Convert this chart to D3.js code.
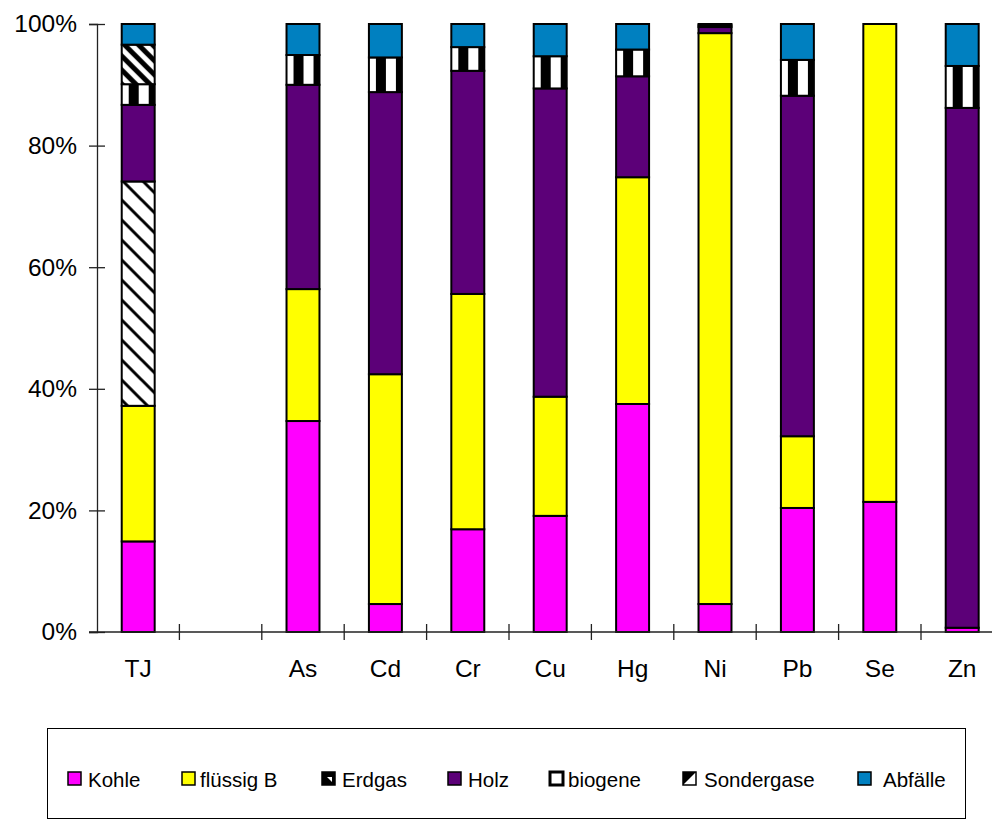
<!DOCTYPE html>
<html><head><meta charset="utf-8">
<script src="https://cdn.jsdelivr.net/npm/d3@7"></script>
<style>
html,body{margin:0;padding:0;background:#fff;}
svg{display:block;font-family:"Liberation Sans",Arial,sans-serif;}
</style></head>
<body>
<svg id="chart" width="992" height="823"></svg>
<script>
const categories = ["TJ", "", "As", "Cd", "Cr", "Cu", "Hg", "Ni", "Pb", "Se", "Zn"];
const seriesNames = ["Kohle", "flüssig B", "Erdgas", "Holz", "biogene", "Sondergase", "Abfälle"];
const kohle      = [14.9, 0, 34.7,  4.6, 16.9, 19.1, 37.5,  4.6, 20.4, 21.4,  0.7];
const fluessigB  = [22.3, 0, 21.7, 37.8, 38.7, 19.6, 37.3, 93.9, 11.8, 78.6,  0.0];
const erdgas     = [36.9, 0,  0.0,  0.0,  0.0,  0.0,  0.0,  0.0,  0.0,  0.0,  0.0];
const holz       = [12.6, 0, 33.6, 46.4, 36.7, 50.7, 16.6,  1.0, 56.0,  0.0, 85.5];
const biogene    = [ 3.4, 0,  4.9,  5.7,  3.9,  5.3,  4.4,  0.3,  5.9,  0.0,  6.9];
const sondergase = [ 6.5, 0,  0.0,  0.0,  0.0,  0.0,  0.0,  0.0,  0.0,  0.0,  0.0];
const abfaelle   = [ 3.4, 0,  5.1,  5.5,  3.8,  5.3,  4.2,  0.2,  5.9,  0.0,  6.9];
const yTicks = [0, 20, 40, 60, 80, 100];

const seriesValues = [kohle, fluessigB, erdgas, holz, biogene, sondergase, abfaelle];
const fills = ["#FF00FF", "#FFFF00", "url(#pErdgas)", "#5C0078", "url(#pBiogene)", "url(#pSonder)", "#0080C0"];

const rows = categories.map((c, i) => {
  const r = {cat: c, idx: i};
  seriesNames.forEach((s, j) => r[s] = seriesValues[j][i]);
  return r;
});

const svg = d3.select("#chart");
const defs = svg.append("defs");

const pE = defs.append("pattern").attr("id", "pErdgas").attr("patternUnits", "userSpaceOnUse")
  .attr("width", 20).attr("height", 20);
pE.append("rect").attr("width", 20).attr("height", 20).attr("fill", "#fff");
pE.append("path").attr("d", "M-5,-5L25,25M-5,15L5,25M15,-5L25,5").attr("stroke", "#000").attr("stroke-width", 3);

const pS = defs.append("pattern").attr("id", "pSonder").attr("patternUnits", "userSpaceOnUse")
  .attr("width", 14).attr("height", 14);
pS.append("rect").attr("width", 14).attr("height", 14).attr("fill", "#fff");
pS.append("path").attr("d", "M-4,-4L18,18M-4,10L4,18M10,-4L18,4").attr("stroke", "#000").attr("stroke-width", 5);

const pB = defs.append("pattern").attr("id", "pBiogene").attr("patternUnits", "userSpaceOnUse")
  .attr("x", 7).attr("width", 20).attr("height", 20);
pB.append("rect").attr("width", 20).attr("height", 20).attr("fill", "#fff");
pB.append("rect").attr("width", 10).attr("height", 20).attr("fill", "#000");

const x = d3.scaleBand().domain(categories.map((c, i) => i)).range([97, 97 + 11 * 82.4])
  .paddingInner(0.6).paddingOuter(0.3);
const y = d3.scaleLinear().domain([0, 100]).range([632, 24]);

const stacked = d3.stack().keys(seriesNames)(rows);

const barsG = svg.append("g");
stacked.forEach((layer, j) => {
  layer.forEach((d, i) => {
    if (d[1] - d[0] <= 0) return;
    barsG.append("g").attr("transform", `translate(${x(i)},0)`)
      .append("rect")
      .attr("x", 0).attr("width", x.bandwidth())
      .attr("y", y(d[1])).attr("height", y(d[0]) - y(d[1]))
      .attr("fill", fills[j]).attr("stroke", "#000").attr("stroke-width", 2);
  });
});

const yAxis = d3.axisLeft(y).tickValues(yTicks).tickFormat(d => d + "%").tickSize(8).tickPadding(12);
const gy = svg.append("g").attr("transform", "translate(97,0)").call(yAxis);
gy.select(".domain").attr("stroke", "#222").attr("stroke-width", 1.3);
gy.selectAll(".tick line").attr("x2", -8).attr("x1", 8).attr("stroke", "#222").attr("stroke-width", 1.3);
gy.selectAll(".tick text").attr("font-size", 24.5).attr("fill", "#000")
  .attr("font-family", "Liberation Sans, Arial, sans-serif").attr("x", -20);

const xAxis = d3.axisBottom(x).tickFormat(i => categories[i]).tickSize(0).tickPadding(28);
const gx = svg.append("g").attr("transform", "translate(0,632)").call(xAxis);
gx.select(".domain").attr("d", `M89,0H1005`).attr("stroke", "#222").attr("stroke-width", 1.3);
gx.selectAll(".tick text").attr("font-size", 24.5).attr("fill", "#000")
  .attr("font-family", "Liberation Sans, Arial, sans-serif");
const step = x.step();
gx.selectAll(".bound").data(d3.range(1, 11)).enter().append("line")
  .attr("x1", k => 97 + k * step).attr("x2", k => 97 + k * step)
  .attr("y1", -8).attr("y2", 8).attr("stroke", "#222").attr("stroke-width", 1.3);

const lg = svg.append("g");
lg.append("rect").attr("x", 47.5).attr("y", 728.5).attr("width", 918).attr("height", 90)
  .attr("fill", "#fff").attr("stroke", "#000").attr("stroke-width", 1);
const legendX = [68, 182, 322, 448, 550, 683, 858];
const textX = [88, 200, 342, 468, 568, 704, 883];
seriesNames.forEach((s, j) => {
  const g = lg.append("g").attr("transform", `translate(${legendX[j]},772)`);
  if (j === 2) {
    g.append("rect").attr("width", 13).attr("height", 13).attr("fill", "#000").attr("stroke", "#000").attr("stroke-width", 1.5);
    g.append("path").attr("d", "M5,5H10V10Z").attr("fill", "#fff");
  } else if (j === 4) {
    g.append("rect").attr("width", 13).attr("height", 13).attr("fill", "#fff").attr("stroke", "#000").attr("stroke-width", 3);
  } else if (j === 5) {
    g.append("rect").attr("width", 13).attr("height", 13).attr("fill", "#fff").attr("stroke", "#000").attr("stroke-width", 1.5);
    g.append("path").attr("d", "M0,0H13L0,13Z").attr("fill", "#000");
  } else {
    g.append("rect").attr("width", 13).attr("height", 13).attr("fill", fills[j]).attr("stroke", "#000").attr("stroke-width", 1.5);
  }
  lg.append("text").attr("x", textX[j]).attr("y", 787).attr("font-size", 20.5).attr("fill", "#000").text(s);
});
</script>
</body></html>
